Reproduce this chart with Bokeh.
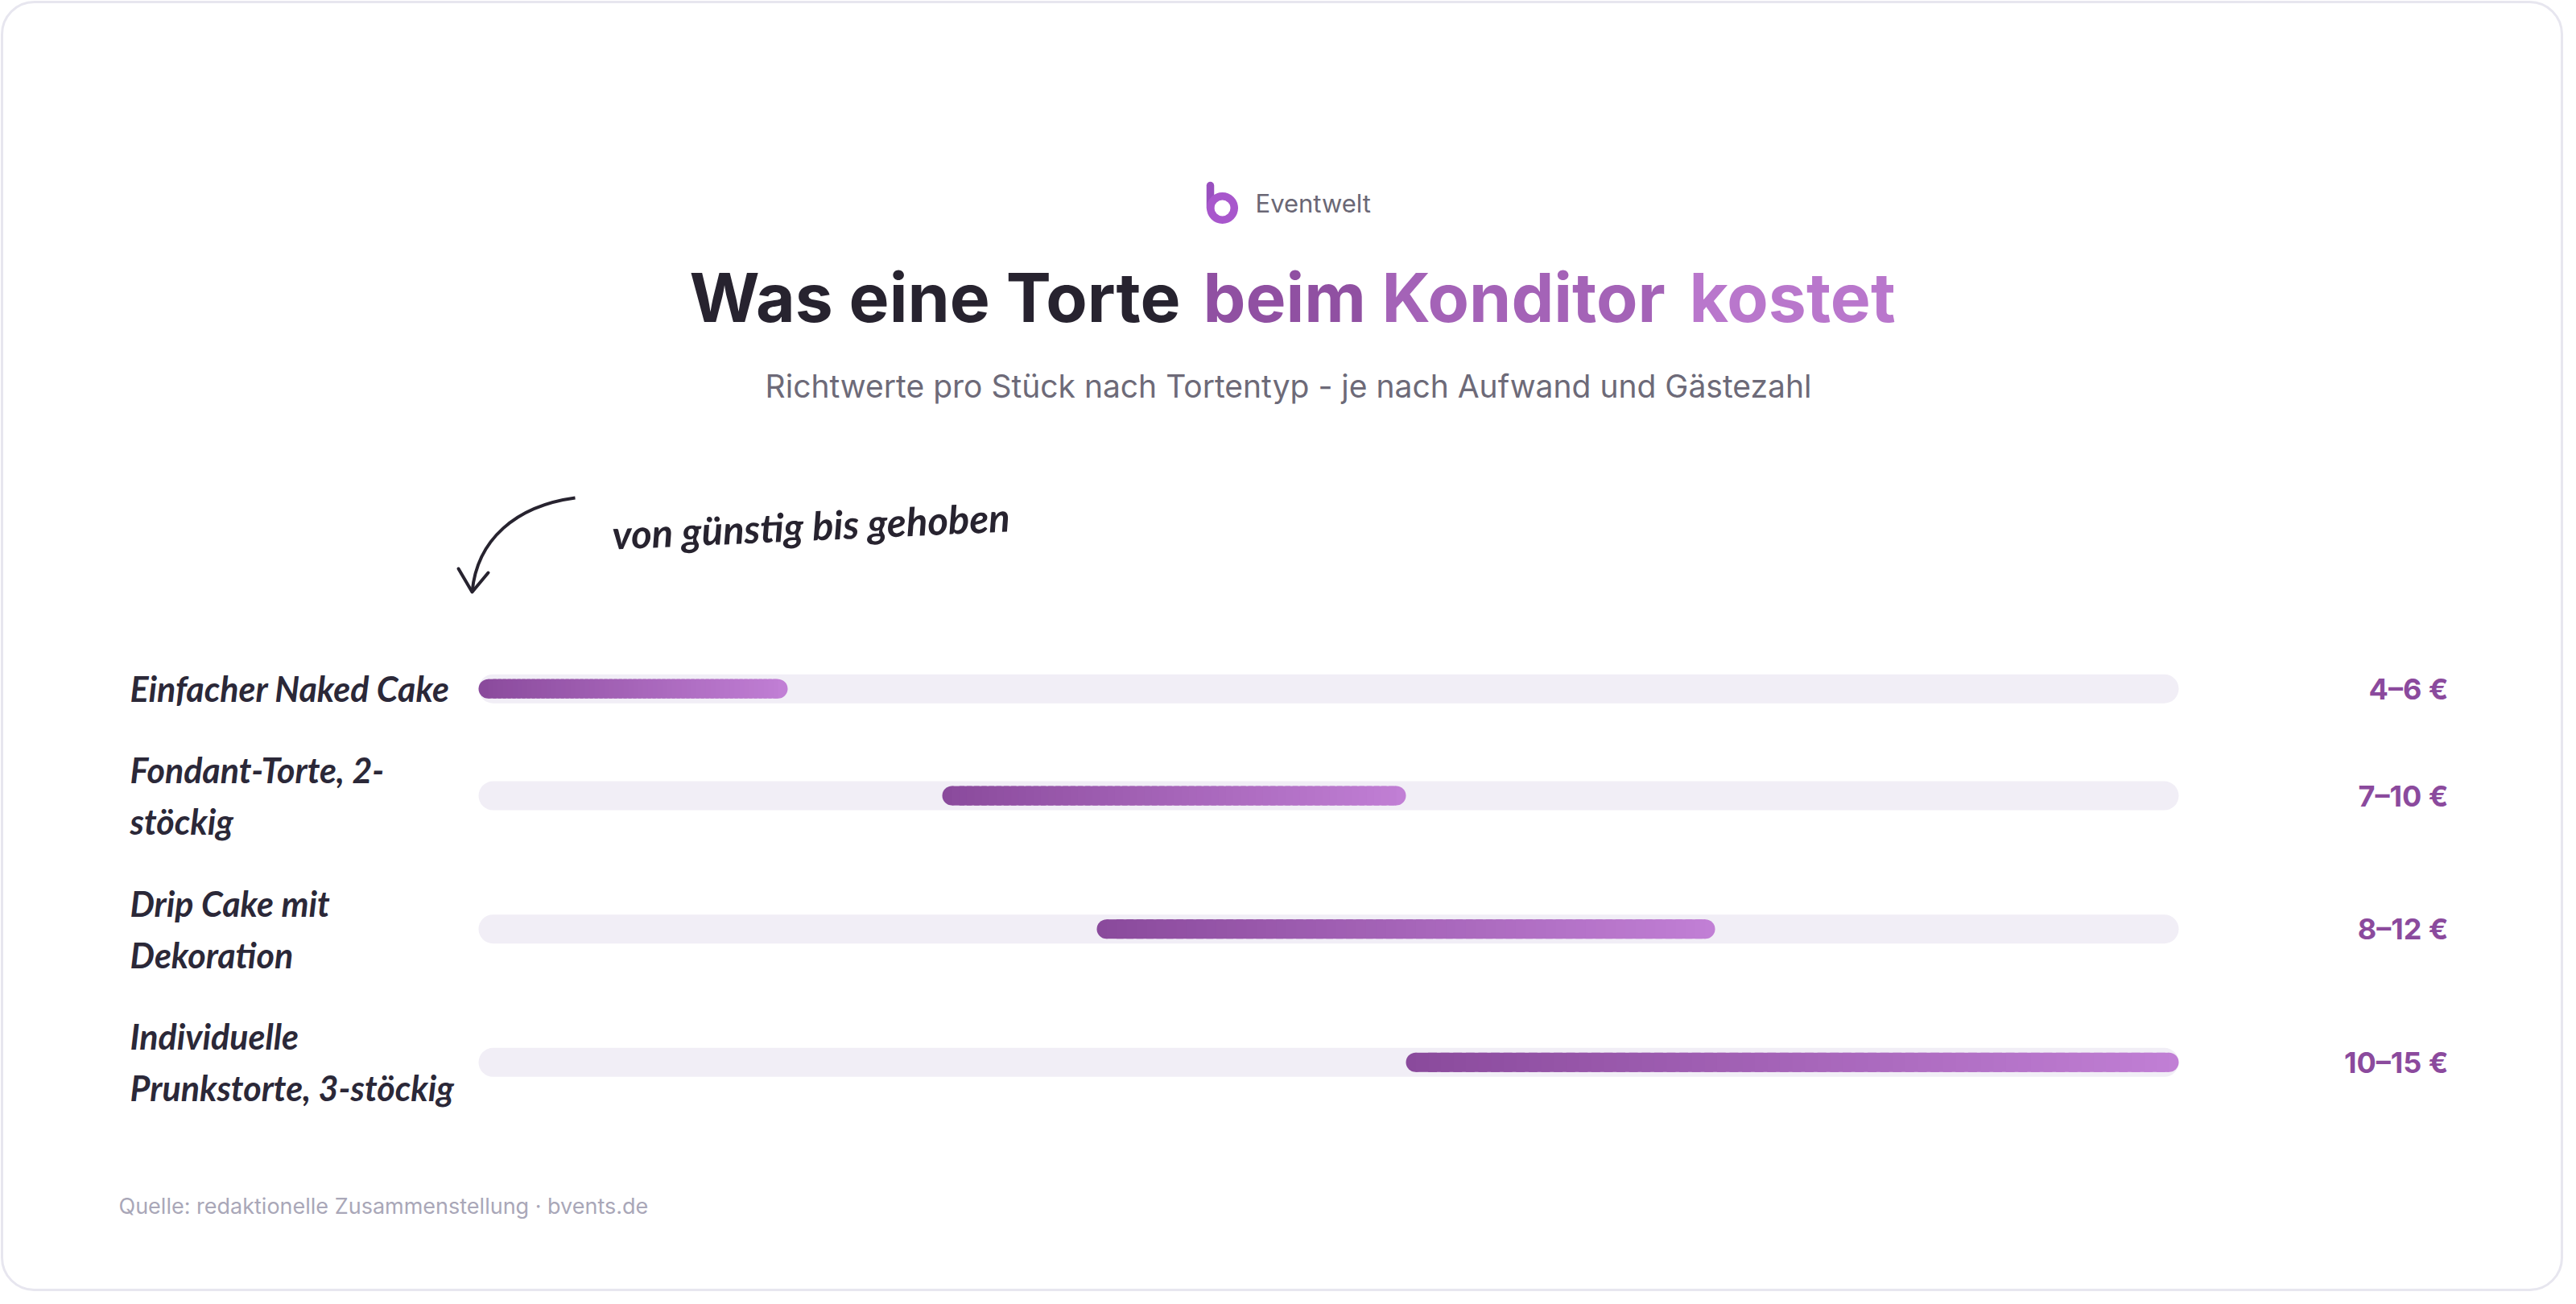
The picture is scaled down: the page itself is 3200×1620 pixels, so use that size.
from bokeh.plotting import figure
from bokeh.models import Range1d, ColumnDataSource
from bokeh.core.properties import value
from bokeh.embed import file_html
from bokeh.resources import INLINE

# ---------------- data ----------------
categories = ["Einfacher Naked Cake", "Fondant-Torte, 2-stöckig",
              "Drip Cake mit Dekoration", "Individuelle Prunkstorte, 3-stöckig"]
label_lines = [["Einfacher Naked Cake"],
               ["Fondant-Torte, 2-", "stöckig"],
               ["Drip Cake mit", "Dekoration"],
               ["Individuelle", "Prunkstorte, 3-stöckig"]]
price_low = [4, 7, 8, 10]
price_high = [6, 10, 12, 15]
value_texts = [f"{lo}–{hi} €" for lo, hi in zip(price_low, price_high)]

brand = "Eventwelt"
title_dark = "Was eine Torte"
title_accent = ["beim", "Konditor", "kostet"]
subtitle = "Richtwerte pro Stück nach Tortentyp - je nach Aufwand und Gästezahl"
annotation = "von günstig bis gehoben"
source_note = "Quelle: redaktionelle Zusammenstellung · bvents.de"

# ---------------- style ----------------
C_DARK = "#27232f"
C0 = "#8a4a9c"
C1 = "#c17fd5"
C_TRACK = "#f1eef6"
C_VALUE = "#8b4a9d"
C_SUB = "#6d6a78"
C_FOOT = "#a9a7b8"
C_LABEL = "#2b2838"


def mix(c0, c1, t):
    a = [int(c0[i:i + 2], 16) for i in (1, 3, 5)]
    b = [int(c1[i:i + 2], 16) for i in (1, 3, 5)]
    return "#%02x%02x%02x" % tuple(round(a[j] + (b[j] - a[j]) * t) for j in range(3))


W, H = 3184, 1604
OFF = 0


def X(v):
    return v - OFF


def Y(v):
    return H - (v - OFF)


p = figure(width=W, height=H, x_range=Range1d(0, W), y_range=Range1d(0, H),
           output_backend="svg", toolbar_location=None, min_border=0,
           x_axis_location=None, y_axis_location=None)
p.grid.visible = False
p.outline_line_color = None
p.background_fill_color = "white"
p.border_fill_color = "white"

# card
p.quad(left=[2], right=[W - 2], top=[H - 2], bottom=[2],
       fill_color="white", line_color="#e7e6ef", line_width=3, border_radius=40)

# ---------------- value scale ----------------
lo_min, hi_max = min(price_low), max(price_high)
track_l_px, track_r_px = X(594), X(2706)
ppe = (track_r_px - track_l_px) / (hi_max - lo_min)
p.extra_x_ranges = {"eur": Range1d(start=lo_min - track_l_px / ppe,
                                   end=hi_max + (W - track_r_px) / ppe)}

# row layout from label line counts
row_top, pad, line_h = 805, 35, 65.3
row_y = []
cur = row_top
for lines in label_lines:
    h = pad + line_h * len(lines)
    row_y.append(Y(cur + h / 2))
    cur += h

# tracks
p.hbar(y=row_y, left=[lo_min] * len(row_y), right=[hi_max] * len(row_y), height=36,
       fill_color=C_TRACK, line_color=None, border_radius=18, x_range_name="eur")

# gradient range bars
bar_h = 24
r_eur = (bar_h / 2) / ppe
N = 60
sl = dict(y=[], left=[], right=[], color=[])
for lo, hi, y in zip(price_low, price_high, row_y):
    a, b = lo + r_eur, hi - r_eur
    step = (b - a) / N
    for k in range(N):
        pos = a + (k + 0.5) * step
        sl["y"].append(y)
        sl["left"].append(a + k * step)
        sl["right"].append(min(b, a + (k + 1.7) * step))
        sl["color"].append(mix(C0, C1, (pos - lo) / (hi - lo)))
p.hbar(y=row_y, left=price_low, right=[lo + 2 * r_eur for lo in price_low], height=bar_h,
       fill_color=C0, line_color=None, border_radius=12, x_range_name="eur")
p.hbar(y=row_y, left=[hi - 2 * r_eur for hi in price_high], right=price_high, height=bar_h,
       fill_color=C1, line_color=None, border_radius=12, x_range_name="eur")
p.hbar(y="y", left="left", right="right", height=bar_h, fill_color="color", line_color=None,
       source=ColumnDataSource(sl), x_range_name="eur")

# category labels
p.text(x=[X(161)] * len(row_y), y=row_y, text=["\n".join(l) for l in label_lines],
       text_font=value("Lato"), text_font_style="bold italic", text_font_size="43px",
       text_color=C_LABEL, text_align="left", text_baseline="middle", text_line_height=1.25)

# value labels
p.text(x=[X(3041)] * len(row_y), y=row_y, text=value_texts,
       text_font=value("Inter"), text_font_style="bold", text_font_size="36px",
       text_color=C_VALUE, text_align="right", text_baseline="middle")

# ---------------- header ----------------
p.line(x=[X(1503), X(1503)], y=[Y(230), Y(258)], line_width=9.5, line_color="#9950bf",
       line_cap="round")
p.annulus(x=[X(1518)], y=[Y(258)], inner_radius=10, outer_radius=19.5,
          fill_color="#a857cc", line_color=None)
p.text(x=[X(1559)], y=[Y(252)], text=[brand], text_font=value("Inter"),
       text_font_size="31px", text_color="#6a6775", text_align="left", text_baseline="middle")

p.text(x=[X(1466)], y=[Y(369)], text=[title_dark], text_font=value("Inter"),
       text_font_style="bold", text_font_size="84px", text_color=C_DARK,
       text_align="right", text_baseline="middle")
word_x = [1494, 1716, 2098]
word_t = [0.11, 0.47, 0.85]
for w, wx, t in zip(title_accent, word_x, word_t):
    p.text(x=[X(wx)], y=[Y(369)], text=[w], text_font=value("Inter"),
           text_font_style="bold", text_font_size="84px", text_color=mix(C0, C1, t),
           text_align="left", text_baseline="middle")

p.text(x=[X(1600)], y=[Y(479)], text=[subtitle], text_font=value("Inter"),
       text_font_size="39px", text_color=C_SUB, text_align="center", text_baseline="middle")

# annotation with arrow
p.bezier(x0=[X(714)], y0=[Y(618)], x1=[X(586)], y1=[Y(735)],
         cx0=[X(640)], cy0=[Y(628)], cx1=[X(592)], cy1=[Y(670)],
         line_width=4, line_color=C_DARK)
p.line(x=[X(569), X(586), X(606)], y=[Y(706), Y(735), Y(711)], line_width=4,
       line_color=C_DARK, line_join="round", line_cap="round")
p.text(x=[X(1007)], y=[Y(652)], text=[annotation], angle=0.045,
       text_font=value("Lato"), text_font_style="bold italic", text_font_size="49px",
       text_color=C_DARK, text_align="center", text_baseline="middle")

# footer
p.text(x=[X(147)], y=[Y(1498)], text=[source_note], text_font=value("Inter"),
       text_font_size="27px", text_color=C_FOOT, text_align="left", text_baseline="middle")

open("out.html", "w").write(file_html(p, INLINE))
